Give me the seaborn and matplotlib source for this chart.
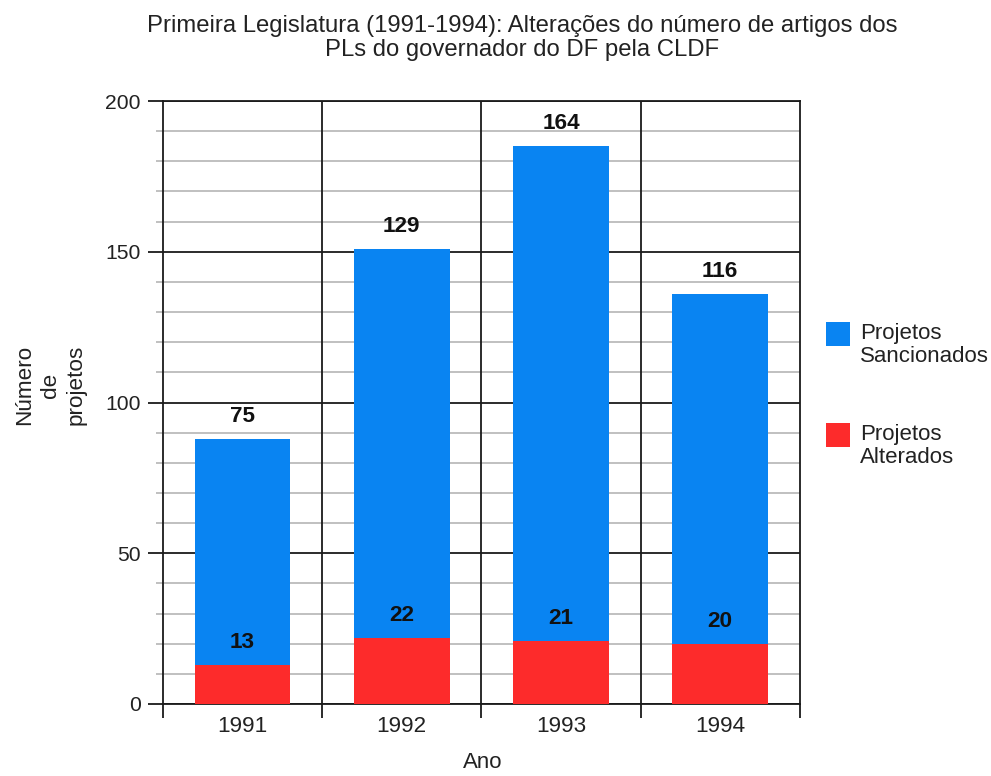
import matplotlib
matplotlib.use("Agg")
import matplotlib.pyplot as plt
from matplotlib.patches import Rectangle
from matplotlib.ticker import MultipleLocator
import numpy as np
import pandas as pd
import seaborn as sns

anos = ["1991", "1992", "1993", "1994"]
sancionados = [75, 129, 164, 116]
alterados = [13, 22, 21, 20]
legenda = ["Projetos\nSancionados", "Projetos\nAlterados"]

cor_sanc = "#0984f2"
cor_alt = "#fd2b2b"
cor_texto = "#222222"
cor_linha = "#1a1a1a"

sns.set_theme(style="white")
plt.rcParams["font.family"] = ["Liberation Sans", "DejaVu Sans"]

df = pd.DataFrame({"Ano": anos, "Sancionados": sancionados, "Alterados": alterados})
df["Total"] = df["Sancionados"] + df["Alterados"]

fig = plt.figure(figsize=(9.91, 7.76), dpi=100)
ax = fig.add_axes([0.1645, 0.0928, 0.6425, 0.777])

# stacked bars: blue segment sits on top of the red one
sns.barplot(data=df, x="Ano", y="Total", color=cor_sanc, width=0.6,
            saturation=1, ax=ax, zorder=3, linewidth=0)
sns.barplot(data=df, x="Ano", y="Alterados", color=cor_alt, width=0.6,
            saturation=1, ax=ax, zorder=4, linewidth=0)

ax.set_ylim(0, 200)
ax.set_xlim(-0.5, len(anos) - 0.5)

# horizontal grid: light every 10, dark every 50
ax.yaxis.set_major_locator(MultipleLocator(50))
ax.yaxis.set_minor_locator(MultipleLocator(10))
ax.grid(which="minor", axis="y", color="#b5b5b5", linewidth=1.2, zorder=1)
ax.grid(which="major", axis="y", color=cor_linha, linewidth=1.3, zorder=2)
ax.set_axisbelow(True)

# vertical separators between years
for xb in np.arange(0.5, len(anos) - 0.5, 1):
    ax.axvline(xb, color=cor_linha, linewidth=1.3, zorder=2)

for s in ax.spines.values():
    s.set_color(cor_linha)
    s.set_linewidth(1.3)

ax.set_xticks(range(len(anos)))
ax.set_xticks(np.arange(-0.5, len(anos), 1), minor=True)
ax.tick_params(axis="x", which="major", length=0, labelsize=16.2, pad=9, labelcolor=cor_texto)
ax.tick_params(axis="x", which="minor", length=10, width=1.3, color=cor_linha, direction="out")
ax.tick_params(axis="y", which="major", length=11, width=1.3, color=cor_linha, direction="out",
               labelsize=15.2, labelcolor=cor_texto, pad=5)
ax.tick_params(axis="y", which="minor", length=5, width=1.2, color="#b5b5b5", direction="out")
ax.tick_params(axis="both", which="both", bottom=True, left=True)

# value labels
for i, (s, a) in enumerate(zip(sancionados, alterados)):
    ax.text(i, s + a + 4, str(s), ha="center", va="bottom", fontsize=16.2,
            fontweight="bold", color="#111111", zorder=5)
    ax.text(i, a + 4, str(a), ha="center", va="bottom", fontsize=16.2,
            fontweight="bold", color="#111111", zorder=5)

ax.set_xlabel("")
ax.set_ylabel("")
fig.text(0.487, 0.004, "Ano", ha="center", va="bottom", fontsize=16, color=cor_texto)
fig.text(0.051, 0.504, "Número\nde\nprojetos", rotation=90, ha="center", va="center",
         fontsize=16.2, color=cor_texto, multialignment="center", linespacing=1.3)

fig.text(0.527, 0.951, "Primeira Legislatura (1991-1994): Alterações do número de artigos dos\n"
         "PLs do governador do DF pela CLDF", ha="center", va="center",
         fontsize=17.2, color=cor_texto, linespacing=1.12)

# legend: square aligned with the first line of each entry
W, H = fig.get_size_inches() * fig.dpi
for (top_px, cor, rotulo) in [(322, cor_sanc, legenda[0]), (423, cor_alt, legenda[1])]:
    fig.patches.append(Rectangle((826 / W, 1 - (top_px + 24) / H), 24 / W, 24 / H,
                                 transform=fig.transFigure, facecolor=cor,
                                 edgecolor="none"))
    fig.text(860 / W, 1 - (top_px + 1) / H, rotulo, ha="left", va="top",
             fontsize=16, color=cor_texto, linespacing=1.1)

fig.savefig("out.png", dpi=100, facecolor="white")
